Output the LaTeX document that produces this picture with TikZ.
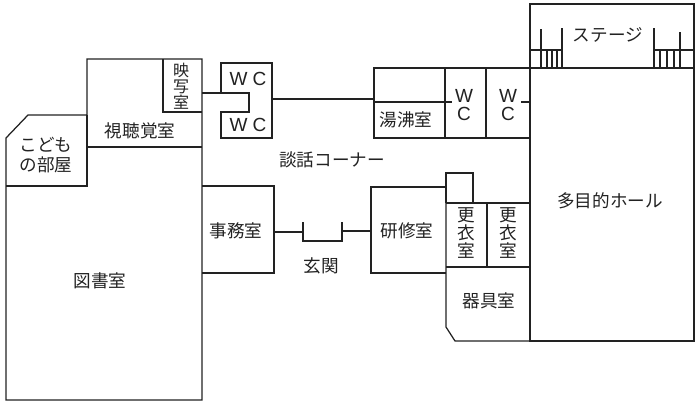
\documentclass[tikz,border=0pt]{standalone}
\usepackage{fontspec}
\setmainfont{Noto Sans CJK JP}
\newfontfamily\lat{Liberation Sans}
\definecolor{ink}{HTML}{222222}
\tikzset{
  wall/.style={draw=ink,line width=1.25pt,line join=miter},
  thin wall/.style={draw=ink,line width=1.1pt},
  lbl/.style={inner sep=0pt,text=ink,font=\fontsize{17.6}{18}\selectfont},
  stk/.style={lbl,align=center,font=\fontsize{17.6}{18.4}\selectfont},
  wc/.style={inner sep=0pt,text=ink,font=\lat\fontsize{19}{18}\selectfont}
}
\begin{document}
\begin{tikzpicture}[x=1pt,y=-1pt]
\useasboundingbox (0,0) rectangle (700,402);
\fill[white] (0,0) rectangle (700,402);
% left block
\draw[wall] (6,138) -- (28,115) -- (87,115) -- (87,59) -- (202,59) -- (202,400) -- (6,400) -- cycle;
\draw[wall] (6,186) -- (87,186) -- (87,115);
\draw[wall] (87,147) -- (202,147);
\draw[wall] (163,59) -- (163,112) -- (202,112);
% WC block
\draw[wall] (202,93) -- (221,93) -- (221,63) -- (272,63) -- (272,138) -- (221,138) -- (221,112) -- (249,112) -- (249,93) -- (221,93);
\draw[wall] (273,99) -- (374,99);
% office
\draw[wall] (202,186) -- (274,186) -- (274,273) -- (202,273);
\draw[wall] (274,232) -- (303,232);
\draw[wall] (303,222) -- (303,241) -- (342,241) -- (342,222);
\draw[wall] (342,231) -- (371,231);
% kitchen and WC
\draw[wall] (530,68) -- (374,68) -- (374,138) -- (530,138);
\draw[wall] (374,102) -- (445,102);
\draw[wall] (445,68) -- (445,138);
\draw[wall] (486,68) -- (486,138);
\draw[wall] (445,102) -- (452,102);
\draw[wall] (521,102) -- (530,102);
% training and changing rooms
\draw[wall] (446,187) -- (371,187) -- (371,273) -- (446,273);
\draw[wall] (446,203) -- (446,173) -- (473,173) -- (473,203);
\draw[wall] (446,203) -- (530,203);
\draw[wall] (446,267) -- (530,267);
\draw[wall] (487,203) -- (487,267);
\draw[wall] (446,203) -- (446,327) -- (455,341) -- (530,341);
% hall
\draw[wall] (530,4) rectangle (694,341);
\draw[wall] (522,68) -- (694,68);
% stage stairs
\draw[thin wall] (530,50) -- (562,50);
\draw[thin wall] (541,29) -- (541,68);
\draw[thin wall] (562,28) -- (562,68);
\foreach \sx in {547,552,557} \draw[thin wall] (\sx,50) -- (\sx,68);
\draw[thin wall] (654,50) -- (694,50);
\draw[thin wall] (654,28) -- (654,68);
\draw[thin wall] (680,32) -- (680,68);
\foreach \sx in {660,667,674} \draw[thin wall] (\sx,50) -- (\sx,68);
% labels
\node[lbl] (stage) at (608,35) {ステージ};
\node[lbl] (danwa) at (332,160) {談話コーナー};
\node[lbl] (hall) at (610,201) {多目的ホール};
\node[lbl] (lib) at (100,281) {図書室};
\node[lbl] (office) at (236,231) {事務室};
\node[lbl] (train) at (407,231) {研修室};
\node[lbl] (entry) at (321,266) {玄関};
\node[lbl] (equip) at (489,301) {器具室};
\node[lbl] (kitchen) at (406,120) {湯沸室};
\node[lbl] (av) at (140,131) {視聴覚室};
\node[lbl] (kidsA) at (46,145) {こども};
\node[lbl] (kidsB) at (46,165) {の部屋};
\node[lbl,align=center,font=\fontsize{16}{16}\selectfont] (movie) at (181,86) {映\\写\\室};
\node[stk] (chgA) at (466,233) {更\\衣\\室};
\node[stk] (chgB) at (508,233) {更\\衣\\室};
\node[wc] (wcA) at (248,79) {W C};
\node[wc] (wcB) at (248,125) {W C};
\node[wc,align=center] (wcC) at (464,105) {W\\C};
\node[wc,align=center] (wcD) at (508,105) {W\\C};
\end{tikzpicture}
\end{document}
